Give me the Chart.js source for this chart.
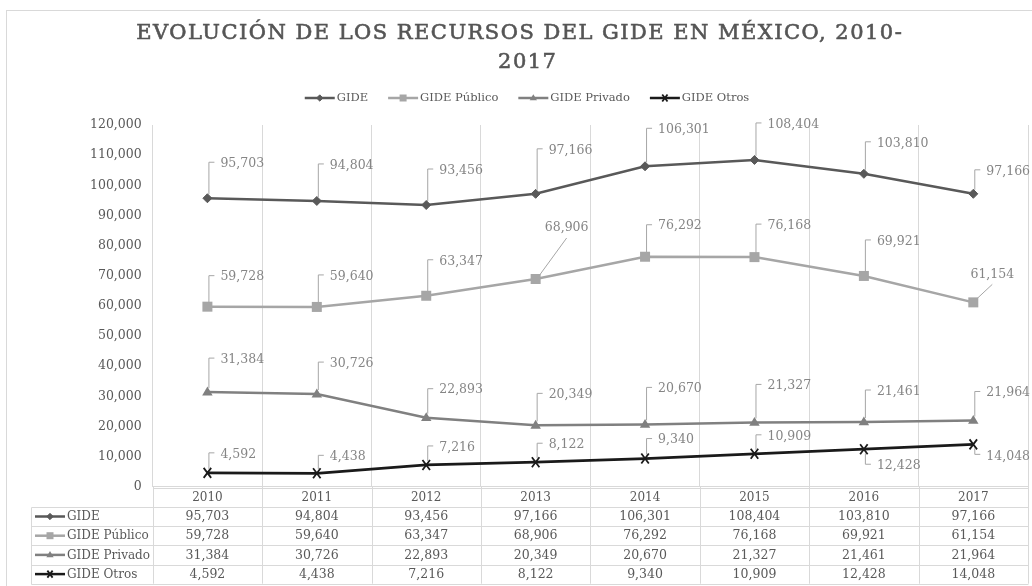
<!DOCTYPE html>
<html>
<head>
<meta charset="utf-8">
<script src="https://cdn.jsdelivr.net/npm/chart.js@4/dist/chart.umd.min.js"></script>
<style>
html,body{margin:0;padding:0;background:#fff;}
#c{display:block;}
</style>
</head>
<body>
<canvas id="c" width="1032" height="586"></canvas>
<script>
// ---- DATA ----
const titleLines = ['EVOLUCIÓN DE LOS RECURSOS DEL GIDE EN MÉXICO, 2010-', '2017'];
const categories = ['2010', '2011', '2012', '2013', '2014', '2015', '2016', '2017'];
const seriesNames = ['GIDE', 'GIDE Público', 'GIDE Privado', 'GIDE Otros'];
const gide        = [95703, 94804, 93456, 97166, 106301, 108404, 103810, 97166];
const gidePublico = [59728, 59640, 63347, 68906, 76292, 76168, 69921, 61154];
const gidePrivado = [31384, 30726, 22893, 20349, 20670, 21327, 21461, 21964];
const gideOtros   = [4592, 4438, 7216, 8122, 9340, 10909, 12428, 14048];
const yMin = 0, yMax = 120000, yStep = 10000;

// ---- STYLE ----
const FONT = '"DejaVu Serif", "Liberation Serif", serif';
const TXT = '#595959';
const LBL = '#858585';
const LEAD = '#a6a6a6';
const GRID = '#d9d9d9';
const seriesStyles = [
  { color: '#595959', marker: 'diamond', r: 4.5 },
  { color: '#a6a6a6', marker: 'square', r: 5 },
  { color: '#808080', marker: 'triangle', r: 5.5 },
  { color: '#1a1a1a', marker: 'cross', r: 5 }
];
const seriesValues = [gide, gidePublico, gidePrivado, gideOtros];
// label leader placement (style only): [type, a, b]
const labelPlacement = [
  [['up',36],['up',37],['up',36],['up',45],['up',38],['up',37],['up',32],['up',24]],
  [['up',31],['up',32],['up',36],['diag',31,-51],['up',32],['up',33],['up',36],['diag',19,-28]],
  [['up',34],['up',32],['up',29],['up',32],['up',37],['up',38],['up',32],['up',29]],
  [['up',20],['up',18],['up',19],['up',19],['up',20],['up',19],['down',15],['down',10]]
];

const fmt = v => v.toLocaleString('en-US');

function drawMarker(ctx, type, x, y, r, color) {
  ctx.save();
  ctx.fillStyle = color; ctx.strokeStyle = color; ctx.lineWidth = 1;
  ctx.beginPath();
  if (type === 'diamond') {
    ctx.moveTo(x, y - r); ctx.lineTo(x + r, y); ctx.lineTo(x, y + r); ctx.lineTo(x - r, y); ctx.closePath();
    ctx.fill(); ctx.stroke();
  } else if (type === 'square') {
    ctx.rect(x - r, y - r, 2 * r, 2 * r); ctx.fill();
  } else if (type === 'triangle') {
    ctx.moveTo(x, y - r); ctx.lineTo(x + r * 0.95, y + r * 0.6); ctx.lineTo(x - r * 0.95, y + r * 0.6); ctx.closePath();
    ctx.fill();
  } else if (type === 'cross') {
    ctx.lineWidth = 1.8;
    ctx.moveTo(x - r * 0.75, y - r); ctx.lineTo(x + r * 0.75, y + r);
    ctx.moveTo(x + r * 0.75, y - r); ctx.lineTo(x - r * 0.75, y + r);
    ctx.stroke();
  }
  ctx.restore();
}

function drawKey(ctx, idx, x0, y, len, scale) {
  const st = seriesStyles[idx];
  ctx.save();
  ctx.strokeStyle = st.color; ctx.lineWidth = 2.5;
  ctx.beginPath(); ctx.moveTo(x0, y); ctx.lineTo(x0 + len, y); ctx.stroke();
  ctx.restore();
  drawMarker(ctx, st.marker, x0 + len / 2, y, st.r * scale, st.color);
}

const markerPlugin = {
  id: 'customMarkers',
  afterDatasetsDraw(chart) {
    const ctx = chart.ctx;
    chart.data.datasets.forEach((ds, i) => {
      const meta = chart.getDatasetMeta(i);
      meta.data.forEach(pt => drawMarker(ctx, seriesStyles[i].marker, pt.x, pt.y, seriesStyles[i].r, seriesStyles[i].color));
    });
    // data labels with leader lines
    ctx.save();
    ctx.font = `12.5px ${FONT}`;
    ctx.fillStyle = LBL;
    ctx.strokeStyle = LEAD;
    ctx.lineWidth = 1;
    chart.data.datasets.forEach((ds, i) => {
      const meta = chart.getDatasetMeta(i);
      meta.data.forEach((pt, j) => {
        const pl = labelPlacement[i][j];
        const x = pt.x, y = pt.y;
        const txt = fmt(ds.data[j]);
        ctx.beginPath();
        if (pl[0] === 'up') {
          const top = y - pl[1];
          ctx.moveTo(x + 1.5, y - 4); ctx.lineTo(x + 1.5, top); ctx.lineTo(x + 7, top); ctx.stroke();
          ctx.textAlign = 'left'; ctx.textBaseline = 'middle';
          ctx.fillText(txt, x + 13, top + 1.5);
        } else if (pl[0] === 'down') {
          const bot = y + pl[1];
          ctx.moveTo(x + 1.5, y + 4); ctx.lineTo(x + 1.5, bot); ctx.lineTo(x + 7, bot); ctx.stroke();
          ctx.textAlign = 'left'; ctx.textBaseline = 'middle';
          ctx.fillText(txt, x + 13, bot + 2);
        } else {
          const tx = x + pl[1], ty = y + pl[2];
          ctx.moveTo(x + 4, y - 4); ctx.lineTo(tx, ty + 10); ctx.stroke();
          ctx.textAlign = 'center'; ctx.textBaseline = 'middle';
          ctx.fillText(txt, tx, ty);
        }
      });
    });
    ctx.restore();
  }
};

const decorPlugin = {
  id: 'decor',
  afterDraw(chart) {
    const ctx = chart.ctx;
    const ca = chart.chartArea;
    const n = categories.length;
    const colW = (ca.right - ca.left) / n;
    const al = v => Math.round(v) + 0.5;

    // outer border
    ctx.save();
    ctx.strokeStyle = GRID; ctx.lineWidth = 1;
    ctx.strokeRect(6.5, 10.5, 1040, 600);
    ctx.restore();

    // title (regular weight slightly thickened)
    ctx.save();
    ctx.fillStyle = '#555555';
    ctx.strokeStyle = '#555555';
    ctx.lineWidth = 0.6;
    ctx.font = `21px ${FONT}`;
    ctx.textBaseline = 'middle'; ctx.textAlign = 'center';
    ctx.letterSpacing = '0px';
    const w0 = ctx.measureText(titleLines[0]).width;
    const ls = Math.max(0, (767 - w0) / titleLines[0].length);
    ctx.letterSpacing = ls.toFixed(2) + 'px';
    [[titleLines[0], 519 + ls / 2, 34], [titleLines[1], 527 + ls / 2, 63]].forEach(([t, x, y]) => {
      ctx.fillText(t, x, y);
      ctx.strokeText(t, x, y);
    });
    ctx.restore();

    // top legend
    ctx.save();
    ctx.font = `11.5px ${FONT}`;
    ctx.fillStyle = TXT; ctx.textBaseline = 'middle'; ctx.textAlign = 'left';
    const keyLen = 30, gapT = 2, gapI = 20;
    const widths = seriesNames.map(s => keyLen + gapT + ctx.measureText(s).width);
    const total = widths.reduce((a, b) => a + b, 0) + gapI * (seriesNames.length - 1);
    let lx = 527 - total / 2;
    const ly = 98;
    seriesNames.forEach((s, i) => {
      drawKey(ctx, i, lx, ly, keyLen, 0.7);
      ctx.fillStyle = TXT;
      ctx.fillText(s, lx + keyLen + gapT, ly + 0.5);
      lx += widths[i] + gapI;
    });
    ctx.restore();

    // data table
    const rowH = 19.2;
    const headTop = ca.bottom + 1;
    const tableLeft = 31.5;
    const nRows = seriesNames.length;
    const tableBottom = headTop + rowH * (nRows + 1);
    ctx.save();
    ctx.strokeStyle = GRID; ctx.lineWidth = 1;
    ctx.beginPath();
    for (let k = 0; k <= n; k++) {
      const x = al(ca.left + k * colW);
      ctx.moveTo(x, ca.bottom); ctx.lineTo(x, tableBottom);
    }
    ctx.moveTo(al(ca.left), al(headTop)); ctx.lineTo(al(ca.right), al(headTop));
    for (let r = 1; r <= nRows + 1; r++) {
      const y = al(headTop + r * rowH);
      ctx.moveTo(tableLeft, y); ctx.lineTo(al(ca.right), y);
    }
    ctx.moveTo(tableLeft, al(headTop + rowH)); ctx.lineTo(tableLeft, al(tableBottom));
    ctx.stroke();

    ctx.fillStyle = TXT; ctx.textBaseline = 'middle'; ctx.textAlign = 'center';
    ctx.font = `12px ${FONT}`;
    categories.forEach((c, k) => ctx.fillText(c, ca.left + (k + 0.5) * colW, headTop + rowH / 2 + 0.5));
    ctx.font = `12.5px ${FONT}`;
    seriesValues.forEach((vals, r) => {
      const cy = headTop + (r + 1.5) * rowH + 0.5;
      vals.forEach((v, k) => ctx.fillText(fmt(v), ca.left + (k + 0.5) * colW, cy));
    });
    ctx.textAlign = 'left';
    ctx.font = `12px ${FONT}`;
    seriesNames.forEach((s, r) => {
      const cy = headTop + (r + 1.5) * rowH;
      drawKey(ctx, r, 35, cy, 30, 0.7);
      ctx.fillStyle = TXT;
      ctx.fillText(s, 67, cy + 0.5);
    });
    ctx.restore();
  }
};

new Chart(document.getElementById('c').getContext('2d'), {
  type: 'line',
  data: {
    labels: categories,
    datasets: seriesNames.map((name, i) => ({
      label: name,
      data: seriesValues[i],
      borderColor: seriesStyles[i].color,
      backgroundColor: seriesStyles[i].color,
      borderWidth: i === 3 ? 2.75 : 2.5,
      pointRadius: 0,
      pointHoverRadius: 0,
      tension: 0,
      fill: false
    }))
  },
  options: {
    responsive: false,
    animation: false,
    devicePixelRatio: 1,
    layout: { padding: { top: 125, right: 4, bottom: 99.3, left: 0 } },
    plugins: { legend: { display: false }, title: { display: false }, tooltip: { enabled: false } },
    scales: {
      x: {
        offset: true,
        grid: { offset: true, color: GRID, lineWidth: 1, drawTicks: false },
        border: { display: true, color: GRID },
        ticks: { display: false },
        afterFit(s) { s.height = 0; }
      },
      y: {
        min: yMin, max: yMax,
        ticks: {
          stepSize: yStep, color: TXT, padding: 11,
          font: { family: FONT, size: 12.5 },
          callback: v => fmt(v)
        },
        grid: { display: false, drawTicks: false },
        border: { display: false },
        afterFit(s) { s.width = 152.7; }
      }
    }
  },
  plugins: [markerPlugin, decorPlugin]
});
</script>
</body>
</html>
